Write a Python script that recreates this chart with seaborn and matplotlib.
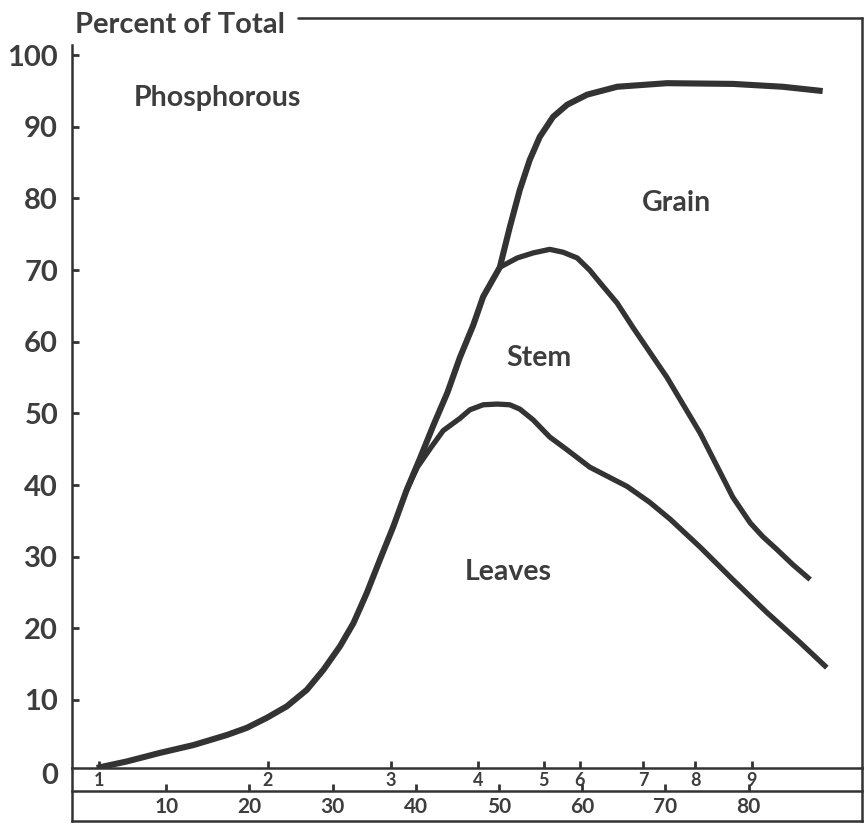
import numpy as np
import pandas as pd
import matplotlib
matplotlib.use('Agg')
import matplotlib.pyplot as plt
import seaborn as sns

## DATA ##

# total curve (top of grain), days after emergence vs percent of total phosphorous
total_days = [1.65, 5.25, 9.25, 13.3, 17.3, 19.7, 22.1, 24.5, 26.9, 28.9, 30.9, 32.5,
              34.1, 35.7, 37.3, 38.9, 40.5, 42.1, 43.8, 45.3, 46.9, 48.1, 50.1, 51.3,
              52.5, 53.7, 54.9, 56.5, 58.2, 60.6, 64.2, 70.2, 78.1, 84.1, 88.9]
total_pct = [0.5, 1.4, 2.6, 3.7, 5.1, 6.1, 7.5, 9.1, 11.4, 14.2, 17.5, 20.7,
             24.9, 29.6, 34.2, 39.3, 43.7, 48.3, 52.9, 57.8, 62.3, 66.3, 70.4, 76.0,
             81.2, 85.4, 88.6, 91.4, 93.1, 94.5, 95.6, 96.1, 96.0, 95.6, 95.0]

# leaves + stem (upper edge of the stem band)
stem_days = [50.1, 52.2, 54.1, 56.1, 57.7, 59.4, 60.9, 62.1, 64.2, 66.1, 70.2, 74.2,
             78.1, 80.2, 81.7, 83.4, 85.3, 87.4]
stem_pct = [70.4, 71.7, 72.4, 72.9, 72.5, 71.7, 70.0, 68.3, 65.4, 62.0, 55.0, 47.2,
            38.3, 34.7, 32.8, 31.0, 28.9, 26.8]

# leaves (upper edge of the leaves band)
leaves_days = [38.9, 40.2, 41.8, 43.3, 45.3, 46.5, 48.1, 49.8, 51.3, 52.5, 54.1, 56.1,
               58.2, 60.9, 65.4, 68.1, 70.6, 74.2, 78.1, 82.2, 86.2, 89.4]
leaves_pct = [39.3, 42.5, 45.2, 47.6, 49.3, 50.5, 51.2, 51.3, 51.2, 50.6, 49.1, 46.7,
              44.9, 42.5, 39.8, 37.6, 35.2, 31.3, 26.8, 22.2, 18.0, 14.5]

# growth stage scale (top row) and days scale (bottom row)
stage_days = [1.9, 22.2, 37.0, 47.5, 55.4, 59.7, 67.3, 73.6, 80.4]
stage_labels = ['1', '2', '3', '4', '5', '6', '7', '8', '9']
day_ticks = [10, 20, 30, 40, 50, 60, 70, 80]
pct_ticks = [10, 20, 30, 40, 50, 60, 70, 80, 90, 100]

# area labels
area_names = ['Phosphorous', 'Grain', 'Stem', 'Leaves']
area_days = [16.2, 71.3, 54.8, 51.1]
area_pct = [94.0, 79.4, 57.7, 27.9]

## STYLE ##
sns.set_theme(style='white')
plt.rcParams['font.family'] = ['Lato', 'DejaVu Sans']
ink = '#333333'
txt = '#3d3d3d'

fig = plt.figure(figsize=(8.66, 8.24), dpi=100)
W, H = 866, 824

# main plot area
ax = fig.add_axes([72 / W, (H - 768) / H, 790 / W, (768 - 18) / H])
ax.set_facecolor('none')

df_total = pd.DataFrame({'days': total_days, 'pct': total_pct})
df_stem = pd.DataFrame({'days': stem_days, 'pct': stem_pct})
df_leaves = pd.DataFrame({'days': leaves_days, 'pct': leaves_pct})
sns.lineplot(data=df_total, x='days', y='pct', ax=ax, color=ink, lw=4.4,
             estimator=None, solid_capstyle='butt', solid_joinstyle='round')
sns.lineplot(data=df_stem, x='days', y='pct', ax=ax, color=ink, lw=3.8,
             estimator=None, solid_capstyle='butt', solid_joinstyle='round')
sns.lineplot(data=df_leaves, x='days', y='pct', ax=ax, color=ink, lw=3.8,
             estimator=None, solid_capstyle='butt', solid_joinstyle='round')

ax.set_xlim(-1.32, 93.63)
ax.set_ylim(0.49, 105.2)
ax.set_xlabel('')
ax.set_ylabel('')

# spines
for s in ['left', 'right', 'bottom']:
    ax.spines[s].set_color(ink)
    ax.spines[s].set_linewidth(1.8)
ax.spines['top'].set_visible(False)
ax.spines['left'].set_bounds(0.49, 101.4)

# y ticks
ax.set_yticks(pct_ticks)
ax.set_yticklabels([str(v) for v in pct_ticks])
ax.tick_params(axis='y', direction='in', length=5, width=2, color=ink, pad=10,
               labelsize=21, labelcolor=txt, left=True)
for lab in ax.get_yticklabels():
    lab.set_fontweight('bold')
ax.annotate('0', xy=(0, 0), xycoords=ax.get_yaxis_transform(), xytext=(-10, -3),
            textcoords='offset points', ha='right', va='center', fontsize=21,
            fontweight='bold', color=txt, annotation_clip=False)

# stage ticks on the baseline
ax.set_xticks(stage_days)
ax.set_xticklabels(stage_labels)
ax.tick_params(axis='x', direction='in', length=5, width=2, color=ink, pad=3,
               labelsize=13, labelcolor=txt, bottom=True)
for lab in ax.get_xticklabels():
    lab.set_fontweight('bold')

# title line across the top
ax.annotate('Percent of Total', xy=(0.004, 1.0), xycoords='axes fraction',
            xytext=(0, -5), textcoords='offset points', ha='left', va='center',
            fontsize=21, fontweight='bold', color=txt)
ax.plot([(298 - 72) / 790, 1.0], [1.0, 1.0], transform=ax.transAxes, color=ink,
        lw=1.8, clip_on=False)

for name, d, p in zip(area_names, area_days, area_pct):
    ax.text(d, p, name, ha='center', va='center', fontsize=20.5, fontweight='bold',
            color=txt)

# days scale box under the plot
ax2 = fig.add_axes([72 / W, (H - 821) / H, 790 / W, (821 - 768) / H])
ax2.set_facecolor('none')
ax2.set_xlim(ax.get_xlim())
ax2.set_ylim(0, 1)
ax2.set_yticks([])
for s in ['left', 'right', 'bottom', 'top']:
    ax2.spines[s].set_color(ink)
    ax2.spines[s].set_linewidth(1.8)
ax2.spines['top'].set_position(('axes', 30 / 53))
ax2.set_xticks(day_ticks)
ax2.set_xticklabels([str(v) for v in day_ticks])
ax2.tick_params(axis='x', top=True, bottom=False, labeltop=False, labelbottom=True,
                direction='out', length=5, width=2, color=ink, pad=-22.5,
                labelsize=15, labelcolor=txt)
for lab in ax2.get_xticklabels():
    lab.set_fontweight('bold')

fig.savefig('out.png', dpi=100)
